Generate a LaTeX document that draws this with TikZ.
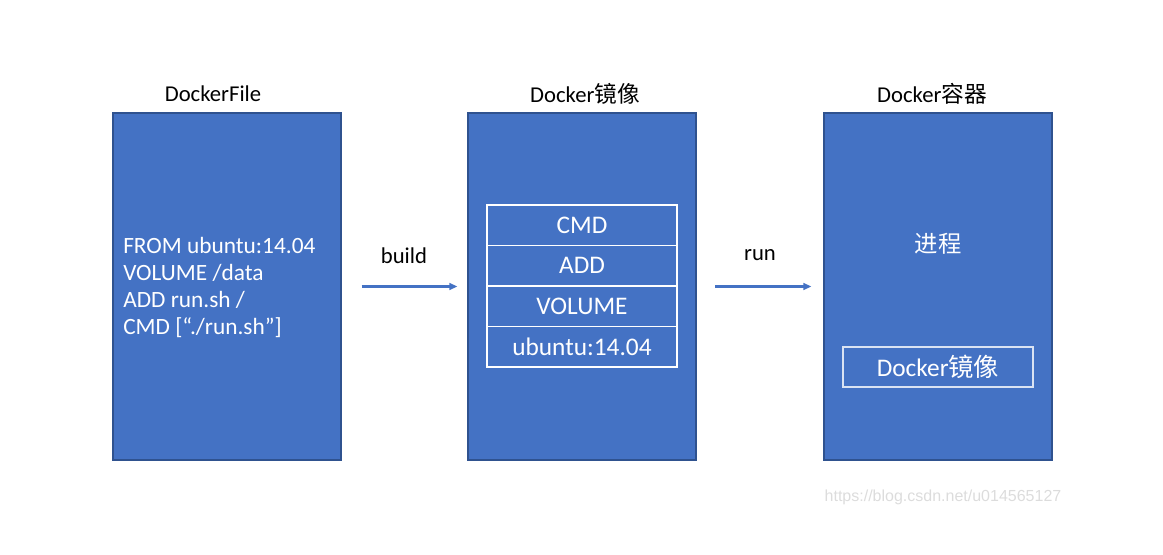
\documentclass[tikz,border=0pt]{standalone}
\usepackage{fontspec}
\setmainfont{Carlito}
\newfontfamily\cjk{Noto Sans CJK SC}
\newfontfamily\wmfont{Liberation Sans}
\usetikzlibrary{arrows.meta}
\definecolor{boxblue}{HTML}{4472C4}
\definecolor{boxedge}{HTML}{2F528F}
\definecolor{innerline}{HTML}{DAE3F3}
\definecolor{wmgray}{HTML}{DCDCDC}
\tikzset{
  bigbox/.style={draw=boxedge, fill=boxblue, line width=0.8pt, minimum width=171pt, minimum height=260.25pt, inner sep=0pt},
  titletext/.style={font=\fontsize{17}{20}\selectfont, text=black, inner sep=0pt},
  whitetext/.style={font=\fontsize{17.5}{20.25}\selectfont, text=white, inner sep=0pt},
  layer/.style={draw=white, line width=1.1pt, minimum width=142.5pt, minimum height=30.4pt, inner sep=0pt, outer sep=0pt, font=\fontsize{19}{22}\selectfont, text=white},
  imgbox/.style={draw=innerline, line width=1.1pt, minimum width=142.5pt, minimum height=30pt, inner sep=0pt, font=\fontsize{19}{22}\selectfont, text=white},
  flow/.style={draw=boxblue, line width=1.6pt, -{Triangle[length=6pt,width=5pt]}},
  lbl/.style={font=\fontsize{17}{20}\selectfont, text=black, inner sep=0pt}
}
\begin{document}
\begin{tikzpicture}[x=0.75pt,y=-0.75pt]
\useasboundingbox (0,0) rectangle (1163,555);
% boxes
\node[bigbox] (b1) at (227,286.5) {};
\node[bigbox] (b2) at (582,286.5) {};
\node[bigbox] (b3) at (938,286.5) {};
% titles
\node[titletext] (t1) at (213,94) {DockerFile};
\node[titletext] (t2) at (585,94) {Docker{\cjk 镜像}};
\node[titletext] (t3) at (932,94) {Docker{\cjk 容器}};
% dockerfile text
\node[whitetext, anchor=west, align=left] (df) at (123,287) {FROM ubuntu:14.04\\VOLUME /data\\ADD run.sh /\\CMD [“./run.sh”]};
% layers
\node[layer] (l1) at (582,225.25) {CMD};
\node[layer, anchor=north] (l2) at (l1.south) {ADD};
\node[layer, anchor=north] (l3) at (l2.south) {VOLUME};
\node[layer, anchor=north] (l4) at (l3.south) {ubuntu:14.04};
% container content
\node[whitetext] (proc) at (938,244) {\cjk 进程};
\node[imgbox] (img) at (938,367) {Docker{\cjk 镜像}};
% arrows
\draw[flow, shorten <=15pt, shorten >=7.5pt] (b1.east) -- (b2.west);
\draw[flow, shorten <=14pt, shorten >=9pt] (b2.east) -- (b3.west);
\node[lbl] (build) at (404,256) {build};
\node[lbl] (run) at (760,255) {run};
% watermark
\node[font=\wmfont\fontsize{12}{14}\selectfont, text=wmgray, inner sep=0pt] (wm) at (943,497) {https://blog.csdn.net/u014565127};
\end{tikzpicture}
\end{document}
